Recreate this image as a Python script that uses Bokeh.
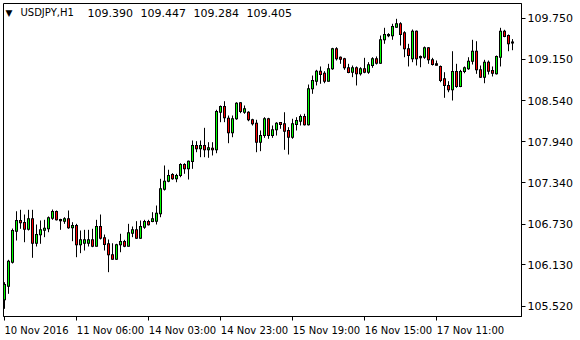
from bokeh.plotting import figure
from bokeh.models import Range1d, FixedTicker, Label, ColumnDataSource, PrintfTickFormatter, LinearAxis
from bokeh.embed import file_html
from bokeh.resources import INLINE

symbol = "USDJPY,H1"
last_ohlc = [109.390, 109.447, 109.284, 109.405]

opens = [105.618, 105.818, 106.170, 106.626, 106.783, 106.753, 106.655, 106.808, 106.449, 106.573,
         106.640, 106.661, 106.817, 106.915, 106.798, 106.773, 106.808, 106.676, 106.709, 106.426,
         106.449, 106.449, 106.499, 106.405, 106.695, 106.529, 106.441, 106.279, 106.214, 106.426,
         106.474, 106.405, 106.596, 106.646, 106.523, 106.684, 106.768, 106.768, 106.773, 106.881,
         107.243, 107.360, 107.458, 107.395, 107.444, 107.605, 107.542, 107.649, 107.884, 107.836,
         107.884, 107.821, 107.845, 107.821, 108.373, 108.457, 108.285, 108.071, 108.277, 108.512,
         108.373, 108.373, 108.262, 108.212, 107.933, 108.031, 108.277, 108.031, 108.115, 108.222,
         108.203, 108.105, 108.006, 108.193, 108.241, 108.310, 108.188, 108.717, 108.829, 108.976,
         108.946, 108.829, 109.011, 109.305, 109.181, 109.158, 109.026, 108.961, 109.026, 108.937,
         109.011, 108.961, 109.059, 109.158, 109.093, 109.437, 109.496, 109.496, 109.622, 109.672,
         109.540, 109.305, 109.158, 109.563, 109.192, 109.181, 109.319, 109.143, 109.064, 109.045,
         108.864, 108.766, 108.702, 108.971, 108.751, 108.971, 109.011, 109.123, 109.269, 108.996,
         108.888, 109.108, 108.986, 108.937, 109.181, 109.563, 109.500, 109.390]
highs = [105.877, 106.206, 106.665, 106.919, 106.940, 106.871, 106.940, 106.940, 106.724, 106.783,
         106.793, 106.842, 106.944, 106.930, 106.808, 106.831, 106.930, 106.758, 106.734, 106.636,
         106.646, 106.646, 106.661, 106.793, 106.871, 106.577, 106.504, 106.449, 106.441, 106.588,
         106.499, 106.734, 106.695, 106.773, 106.783, 106.793, 106.793, 106.905, 107.003, 107.395,
         107.591, 107.528, 107.478, 107.469, 107.624, 107.624, 107.664, 107.958, 107.948, 107.958,
         108.144, 107.933, 107.933, 108.409, 108.472, 108.535, 108.325, 108.325, 108.520, 108.520,
         108.472, 108.388, 108.277, 108.262, 108.105, 108.300, 108.291, 108.178, 108.227, 108.227,
         108.373, 108.153, 108.277, 108.300, 108.340, 108.350, 108.780, 108.912, 108.996, 109.045,
         108.976, 109.084, 109.319, 109.328, 109.192, 109.172, 109.084, 109.059, 109.045, 109.034,
         109.172, 109.108, 109.181, 109.192, 109.500, 109.613, 109.534, 109.672, 109.745, 109.695,
         109.563, 109.378, 109.588, 109.573, 109.206, 109.338, 109.328, 109.172, 109.133, 109.059,
         108.961, 108.829, 109.269, 109.084, 108.996, 109.045, 109.181, 109.437, 109.416, 109.059,
         109.143, 109.133, 109.045, 109.206, 109.613, 109.584, 109.515, 109.447]
lows = [105.486, 105.706, 106.151, 106.489, 106.661, 106.464, 106.636, 106.235, 106.401, 106.441,
        106.538, 106.611, 106.793, 106.783, 106.646, 106.734, 106.661, 106.479, 106.244, 106.303,
        106.342, 106.401, 106.391, 106.401, 106.504, 106.342, 106.024, 106.206, 106.206, 106.317,
        106.391, 106.401, 106.538, 106.514, 106.514, 106.661, 106.709, 106.758, 106.724, 106.831,
        107.223, 107.345, 107.381, 107.345, 107.419, 107.469, 107.385, 107.542, 107.786, 107.713,
        107.713, 107.704, 107.738, 107.771, 108.227, 108.227, 107.918, 108.006, 108.262, 108.359,
        108.350, 108.241, 108.178, 107.786, 107.801, 107.997, 107.983, 107.997, 108.031, 108.130,
        107.821, 107.752, 107.983, 108.105, 108.178, 108.178, 108.178, 108.644, 108.766, 108.791,
        108.799, 108.824, 108.996, 109.133, 109.084, 108.996, 108.946, 108.888, 108.766, 108.912,
        108.946, 108.937, 109.026, 109.074, 109.084, 109.378, 109.475, 109.437, 109.613, 109.353,
        109.181, 109.045, 109.108, 109.059, 109.034, 109.158, 109.084, 109.059, 109.059, 108.814,
        108.585, 108.667, 108.545, 108.732, 108.741, 108.946, 108.996, 109.074, 108.937, 108.879,
        108.799, 108.927, 108.898, 108.927, 109.045, 109.475, 109.269, 109.284]
closes = [105.843, 106.185, 106.636, 106.783, 106.749, 106.655, 106.808, 106.449, 106.577, 106.646,
          106.670, 106.823, 106.915, 106.793, 106.778, 106.808, 106.676, 106.709, 106.426, 106.499,
          106.499, 106.499, 106.405, 106.695, 106.523, 106.430, 106.279, 106.214, 106.426, 106.474,
          106.405, 106.602, 106.646, 106.523, 106.695, 106.768, 106.720, 106.808, 106.890, 107.248,
          107.360, 107.444, 107.395, 107.444, 107.605, 107.542, 107.654, 107.884, 107.836, 107.884,
          107.821, 107.851, 107.821, 108.384, 108.457, 108.291, 108.071, 108.277, 108.506, 108.384,
          108.423, 108.262, 108.203, 107.933, 108.031, 108.277, 108.031, 108.115, 108.212, 108.193,
          108.094, 108.006, 108.203, 108.252, 108.310, 108.188, 108.717, 108.839, 108.976, 108.927,
          108.829, 109.011, 109.305, 109.158, 109.152, 109.026, 108.957, 109.026, 108.937, 109.011,
          108.961, 109.070, 109.158, 109.093, 109.437, 109.515, 109.515, 109.632, 109.672, 109.515,
          109.305, 109.206, 109.563, 109.158, 109.172, 109.319, 109.143, 109.074, 109.084, 108.839,
          108.766, 108.702, 108.971, 108.751, 108.971, 109.026, 109.123, 109.269, 108.996, 108.888,
          109.108, 108.976, 108.946, 109.192, 109.563, 109.485, 109.378, 109.405]

time_tick_bars = [0, 18, 36, 54, 72, 90, 108]
time_tick_labels = ["10 Nov 2016", "11 Nov 06:00", "14 Nov 03:00", "14 Nov 23:00",
                    "15 Nov 19:00", "16 Nov 15:00", "17 Nov 11:00"]
price_ticks = [105.520, 106.130, 106.730, 107.340, 107.940, 108.540, 109.150, 109.750]

BULL = "#00ff00"
BEAR = "#ff0000"
FONT = "DejaVu Sans"

X0, X1 = -0.25, 129.25
Y0, Y1 = 105.373, 109.970
FW, FH = 518, 313
PX = (Y1 - Y0) / FH  # price units per pixel
UX = (X1 - X0) / FW  # bar units per pixel


def sx(px):
    return X0 + (px - 3) * UX


def sy(py):
    return Y1 - (py - 3) * PX


n = len(opens)
idx = list(range(n))
colors = [BULL if c >= o else BEAR for o, c in zip(opens, closes)]
tops = [max(o, c) for o, c in zip(opens, closes)]
bots = [min(o, c) for o, c in zip(opens, closes)]
btop = [t + PX * 0.5 for t in tops]
bbot = [b - PX * 0.5 for b in bots]
ix, itop, ibot, icol = [], [], [], []
for i in idx:
    if btop[i] - bbot[i] > 2.5 * PX:
        ix.append(i)
        itop.append(btop[i] - PX)
        ibot.append(bbot[i] + PX)
        icol.append(colors[i])

src = ColumnDataSource(dict(x=idx, h=highs, l=lows, top=btop, bot=bbot))
core = ColumnDataSource(dict(x=ix, top=itop, bot=ibot, color=icol))

p = figure(frame_width=FW, frame_height=FH, x_range=Range1d(X0, X1), y_range=Range1d(Y0, Y1),
           y_axis_location="right", output_backend="svg", toolbar_location=None,
           min_border_left=3, min_border_top=3, min_border_right=0, min_border_bottom=0)
p.background_fill_color = "white"
p.border_fill_color = "white"
p.outline_line_color = "black"
p.outline_line_width = 1
p.outline_line_alpha = 1
p.xgrid.visible = False
p.ygrid.visible = False

p.segment(x0="x", y0="h", x1="x", y1="l", source=src, line_color="black", line_width=1)
p.vbar(x="x", top="top", bottom="bot", width=0.75, source=src, fill_color="black",
       line_color=None)
p.vbar(x="x", top="top", bottom="bot", width=0.25, source=core, fill_color="color",
       line_color=None)

# tick marks at the bars (no text)
xa = p.xaxis[0]
xa.ticker = FixedTicker(ticks=time_tick_bars)
xa.major_label_overrides = {b: " " for b in time_tick_bars}
xa.major_label_text_font_size = "1px"
xa.major_tick_in = 0
xa.major_tick_out = 4
xa.minor_tick_out = 0
xa.minor_tick_in = 0
xa.major_label_standoff = 0
xa.axis_line_color = "black"

# left-aligned time labels: a second axis whose ticks sit at each label's centre
half_w = [32.0 if k == 0 else 33.7 for k in range(len(time_tick_labels))]
label_pos = [round((b + w * UX) * 4) / 4 for b, w in zip(time_tick_bars, half_w)]
xa2 = LinearAxis(ticker=FixedTicker(ticks=label_pos),
                 major_label_overrides={pos: t for pos, t in zip(label_pos, time_tick_labels)})
xa2.major_label_text_font = FONT
xa2.major_label_text_font_size = "10px"
xa2.major_label_text_color = "black"
xa2.major_tick_in = 0
xa2.major_tick_out = 0
xa2.minor_tick_in = 0
xa2.minor_tick_out = 0
xa2.major_label_standoff = 0
xa2.axis_line_color = None
p.add_layout(xa2, "below")

ya = p.yaxis[0]
ya.ticker = FixedTicker(ticks=price_ticks)
ya.formatter = PrintfTickFormatter(format="%.3f")
ya.major_label_text_font = FONT
ya.major_label_text_font_size = "11px"
ya.major_label_text_color = "black"
ya.major_tick_in = 0
ya.major_tick_out = 4
ya.minor_tick_out = 0
ya.minor_tick_in = 0
ya.major_label_standoff = 2
ya.axis_line_color = "black"

p.add_layout(Label(x=sx(5), y=sy(12), text="\u25bc", text_font=FONT, text_font_size="9px",
                   text_color="black", text_baseline="middle", text_align="left"))
p.add_layout(Label(x=sx(20), y=sy(12), text=symbol, text_font=FONT, text_font_size="10px",
                   text_color="black", text_baseline="middle", text_align="left"))
for k, v in enumerate(last_ohlc):
    p.add_layout(Label(x=sx(87 + 53 * k), y=sy(12), text="%.3f" % v, text_font=FONT,
                       text_font_size="11px", text_color="black", text_baseline="middle",
                       text_align="left"))

p.add_layout(Label(x=sx(522), y=last_ohlc[3], text="%.3f" % last_ohlc[3], text_font=FONT,
                   text_font_size="11px", text_color="white", text_baseline="middle",
                   text_align="left", background_fill_color="black", padding=2))

open("out.html", "w").write(file_html(p, INLINE))
